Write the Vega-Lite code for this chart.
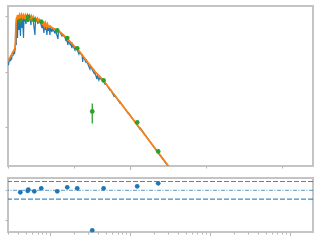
{
  "$schema": "https://vega.github.io/schema/vega-lite/v6.json",
  "padding": {"left": 3, "top": 5, "right": 0, "bottom": 0},
  "background": "white",
  "spacing": 12,
  "bounds": "flush",
  "config": {
    "view": {"stroke": "#c4c4c4", "strokeWidth": 2},
    "axis": {"labels": false, "domain": false, "grid": false, "title": null, "tickColor": "#b4b4b4", "tickWidth": 1}
  },
  "datasets": {
    "model": [
      {"lw": -1.525, "lf": -0.838}, {"lw": -1.519, "lf": -0.883}, {"lw": -1.513, "lf": -0.820}, {"lw": -1.5, "lf": -0.784},
      {"lw": -1.494, "lf": -0.811}, {"lw": -1.488, "lf": -0.757}, {"lw": -1.481, "lf": -0.784}, {"lw": -1.475, "lf": -0.721},
      {"lw": -1.463, "lf": -0.712}, {"lw": -1.456, "lf": -0.667}, {"lw": -1.45, "lf": -0.649}, {"lw": -1.444, "lf": -0.685},
      {"lw": -1.438, "lf": -0.613}, {"lw": -1.433, "lf": -0.595}, {"lw": -1.43, "lf": -0.252}, {"lw": -1.425, "lf": -0.180},
      {"lw": -1.421, "lf": -0.523}, {"lw": -1.418, "lf": -0.054}, {"lw": -1.413, "lf": -0.018}, {"lw": -1.406, "lf": -0.396},
      {"lw": -1.4, "lf": -0.018}, {"lw": -1.388, "lf": -0.252}, {"lw": -1.381, "lf": -0.009}, {"lw": -1.369, "lf": -0.360},
      {"lw": -1.363, "lf": 0.0}, {"lw": -1.35, "lf": -0.216}, {"lw": -1.344, "lf": 0.0}, {"lw": -1.331, "lf": -0.396},
      {"lw": -1.325, "lf": 0.0}, {"lw": -1.3, "lf": -0.144}, {"lw": -1.294, "lf": 0.0}, {"lw": -1.275, "lf": -0.108},
      {"lw": -1.269, "lf": -0.009}, {"lw": -1.25, "lf": -0.018}, {"lw": -1.238, "lf": -0.162}, {"lw": -1.231, "lf": -0.018},
      {"lw": -1.213, "lf": -0.036}, {"lw": -1.188, "lf": -0.342}, {"lw": -1.181, "lf": -0.054}, {"lw": -1.163, "lf": -0.063},
      {"lw": -1.15, "lf": -0.144}, {"lw": -1.144, "lf": -0.072}, {"lw": -1.125, "lf": -0.090}, {"lw": -1.1, "lf": -0.216},
      {"lw": -1.094, "lf": -0.117}, {"lw": -1.075, "lf": -0.306}, {"lw": -1.069, "lf": -0.144}, {"lw": -1.056, "lf": -0.252},
      {"lw": -1.05, "lf": -0.162}, {"lw": -1.038, "lf": -0.342}, {"lw": -1.031, "lf": -0.180}, {"lw": -1.019, "lf": -0.270},
      {"lw": -1.013, "lf": -0.198}, {"lw": -1.0, "lf": -0.342}, {"lw": -0.994, "lf": -0.207}, {"lw": -0.975, "lf": -0.288},
      {"lw": -0.969, "lf": -0.225}, {"lw": -0.938, "lf": -0.306}, {"lw": -0.931, "lf": -0.243}, {"lw": -0.9, "lf": -0.414},
      {"lw": -0.894, "lf": -0.279}, {"lw": -0.875, "lf": -0.297}, {"lw": -0.85, "lf": -0.360}, {"lw": -0.844, "lf": -0.333},
      {"lw": -0.813, "lf": -0.378}, {"lw": -0.8, "lf": -0.450}, {"lw": -0.794, "lf": -0.396}, {"lw": -0.775, "lf": -0.523},
      {"lw": -0.769, "lf": -0.432}, {"lw": -0.75, "lf": -0.505}, {"lw": -0.744, "lf": -0.468}, {"lw": -0.725, "lf": -0.577},
      {"lw": -0.719, "lf": -0.505}, {"lw": -0.688, "lf": -0.613}, {"lw": -0.681, "lf": -0.568}, {"lw": -0.663, "lf": -0.595},
      {"lw": -0.638, "lf": -0.685}, {"lw": -0.631, "lf": -0.649}, {"lw": -0.598, "lf": -0.712}, {"lw": -0.591, "lf": -0.829},
      {"lw": -0.585, "lf": -0.730}, {"lw": -0.55, "lf": -0.829}, {"lw": -0.544, "lf": -0.802}, {"lw": -0.5, "lf": -0.955},
      {"lw": -0.494, "lf": -0.901}, {"lw": -0.45, "lf": -1.027}, {"lw": -0.444, "lf": -0.991}, {"lw": -0.413, "lf": -1.135},
      {"lw": -0.406, "lf": -1.063}, {"lw": -0.388, "lf": -1.153}, {"lw": -0.381, "lf": -1.117}, {"lw": -0.331, "lf": -1.171},
      {"lw": -0.313, "lf": -1.225}, {"lw": -0.306, "lf": -1.207}, {"lw": -0.25, "lf": -1.333}, {"lw": -0.244, "lf": -1.324},
      {"lw": -0.2, "lf": -1.441}, {"lw": -0.194, "lf": -1.420}, {"lw": -0.125, "lf": -1.568}, {"lw": -0.119, "lf": -1.550},
      {"lw": -0.025, "lf": -1.748}, {"lw": -0.019, "lf": -1.739}, {"lw": 0.125, "lf": -2.036}, {"lw": 0.131, "lf": -2.018},
      {"lw": 0.354, "lf": -2.469}, {"lw": 0.525, "lf": -2.793}
    ],
    "binned": [
      {"lw": -1.525, "lf": -0.793}, {"lw": -1.513, "lf": -0.775}, {"lw": -1.5, "lf": -0.748}, {"lw": -1.488, "lf": -0.721},
      {"lw": -1.475, "lf": -0.676}, {"lw": -1.463, "lf": -0.649}, {"lw": -1.45, "lf": -0.613}, {"lw": -1.438, "lf": -0.577},
      {"lw": -1.431, "lf": -0.469}, {"lw": -1.425, "lf": -0.144}, {"lw": -1.419, "lf": -0.036}, {"lw": -1.413, "lf": -0.072},
      {"lw": -1.406, "lf": 0.018}, {"lw": -1.394, "lf": -0.054}, {"lw": -1.381, "lf": 0.018}, {"lw": -1.369, "lf": -0.036},
      {"lw": -1.356, "lf": 0.027}, {"lw": -1.344, "lf": -0.027}, {"lw": -1.331, "lf": 0.018}, {"lw": -1.319, "lf": -0.027},
      {"lw": -1.306, "lf": 0.018}, {"lw": -1.294, "lf": -0.036}, {"lw": -1.281, "lf": 0.018}, {"lw": -1.269, "lf": -0.036},
      {"lw": -1.256, "lf": 0.009}, {"lw": -1.244, "lf": -0.045}, {"lw": -1.231, "lf": 0.0}, {"lw": -1.219, "lf": -0.063},
      {"lw": -1.206, "lf": -0.018}, {"lw": -1.194, "lf": -0.072}, {"lw": -1.181, "lf": -0.036}, {"lw": -1.169, "lf": -0.081},
      {"lw": -1.156, "lf": -0.045}, {"lw": -1.144, "lf": -0.090}, {"lw": -1.131, "lf": -0.063}, {"lw": -1.119, "lf": -0.090},
      {"lw": -1.106, "lf": -0.081}, {"lw": -1.094, "lf": -0.162}, {"lw": -1.081, "lf": -0.099}, {"lw": -1.069, "lf": -0.180},
      {"lw": -1.056, "lf": -0.126}, {"lw": -1.044, "lf": -0.198}, {"lw": -1.031, "lf": -0.144}, {"lw": -1.019, "lf": -0.198},
      {"lw": -1.0, "lf": -0.180}, {"lw": -0.975, "lf": -0.216}, {"lw": -0.95, "lf": -0.225}, {"lw": -0.913, "lf": -0.261},
      {"lw": -0.875, "lf": -0.288}, {"lw": -0.838, "lf": -0.333}, {"lw": -0.8, "lf": -0.387}, {"lw": -0.781, "lf": -0.423},
      {"lw": -0.75, "lf": -0.459}, {"lw": -0.713, "lf": -0.514}, {"lw": -0.688, "lf": -0.559}, {"lw": -0.663, "lf": -0.586},
      {"lw": -0.625, "lf": -0.649}, {"lw": -0.588, "lf": -0.721}, {"lw": -0.55, "lf": -0.793}, {"lw": -0.5, "lf": -0.883},
      {"lw": -0.438, "lf": -1.0}, {"lw": -0.375, "lf": -1.090}, {"lw": -0.331, "lf": -1.162}, {"lw": 0.0, "lf": -1.787},
      {"lw": 0.354, "lf": -2.456}, {"lw": 0.525, "lf": -2.782}
    ],
    "photometry": [
      {"lw": -1.371, "lf": -0.085, "lo": -0.100, "hi": -0.070, "resid": -0.068},
      {"lw": -1.279, "lf": -0.067, "lo": -0.082, "hi": -0.052, "resid": -0.017},
      {"lw": -1.271, "lf": -0.013, "lo": -0.028, "hi": 0.002, "resid": 0.027},
      {"lw": -1.196, "lf": -0.072, "lo": -0.087, "hi": -0.057, "resid": -0.034},
      {"lw": -1.109, "lf": -0.103, "lo": -0.118, "hi": -0.088, "resid": 0.068},
      {"lw": -0.909, "lf": -0.258, "lo": -0.273, "hi": -0.243, "resid": -0.034},
      {"lw": -0.784, "lf": -0.396, "lo": -0.411, "hi": -0.381, "resid": 0.102},
      {"lw": -0.659, "lf": -0.582, "lo": -0.597, "hi": -0.567, "resid": 0.068},
      {"lw": -0.471, "lf": -1.717, "lo": -1.933, "hi": -1.573, "resid": -1.36},
      {"lw": -0.329, "lf": -1.159, "lo": -1.174, "hi": -1.144, "resid": 0.068},
      {"lw": 0.091, "lf": -1.915, "lo": -1.930, "hi": -1.900, "resid": 0.136},
      {"lw": 0.354, "lf": -2.438, "lo": -2.453, "hi": -2.423, "resid": 0.238}
    ],
    "limits": [{"level": 0.3}, {"level": -0.3}],
    "zero": [{"level": 0}]
  },
  "vconcat": [
    {
      "width": 305,
      "height": 160,
      "layer": [
        {
          "data": {"name": "model"},
          "mark": {"type": "line", "color": "#1f77b4", "strokeWidth": 1.2, "clip": true},
          "encoding": {
            "x": {"field": "lw", "type": "quantitative", "scale": {"domain": [-1.525, 2.29], "nice": false, "zero": false},
              "axis": {"values": [-1.523, -1.398, -1.301, -1.222, -1.155, -1.097, -1.046, -1, -0.699, -0.523, -0.398, -0.301, -0.222, -0.155, -0.097, -0.046, 0, 0.301, 0.477, 0.602, 0.699, 0.778, 0.845, 0.903, 0.954, 1, 1.301, 1.477, 1.602, 1.699, 1.778, 1.845, 1.903, 1.954, 2],
                "tickSize": {"condition": {"test": "datum.value == -1 || datum.value == 0 || datum.value == 1 || datum.value == 2", "value": 3.5}, "value": 2}}},
            "y": {"field": "lf", "type": "quantitative", "scale": {"domain": [-2.7, 0.18], "nice": false, "zero": false},
              "axis": {"values": [0, -1, -2], "tickSize": 3}}
          }
        },
        {
          "data": {"name": "binned"},
          "mark": {"type": "line", "color": "#ff7f0e", "strokeWidth": 1.8, "clip": true},
          "encoding": {
            "x": {"field": "lw", "type": "quantitative"},
            "y": {"field": "lf", "type": "quantitative"}
          }
        },
        {
          "data": {"name": "photometry"},
          "mark": {"type": "rule", "color": "#2ca02c", "strokeWidth": 1.3},
          "encoding": {
            "x": {"field": "lw", "type": "quantitative"},
            "y": {"field": "lo", "type": "quantitative"},
            "y2": {"field": "hi"}
          }
        },
        {
          "data": {"name": "photometry"},
          "mark": {"type": "circle", "color": "#2ca02c", "size": 22, "opacity": 1},
          "encoding": {
            "x": {"field": "lw", "type": "quantitative"},
            "y": {"field": "lf", "type": "quantitative"}
          }
        }
      ]
    },
    {
      "width": 305,
      "height": 54,
      "layer": [
        {
          "data": {"name": "limits"},
          "mark": {"type": "rule", "color": "#1f77b4", "strokeWidth": 1.2, "strokeDash": [5, 2], "opacity": 0.85},
          "encoding": {
            "y": {"field": "level", "type": "quantitative", "scale": {"domain": [-1.419, 0.419], "nice": false, "zero": false},
              "axis": {"values": [0, -0.5, -1], "tickSize": 3}}
          }
        },
        {
          "data": {"name": "zero"},
          "mark": {"type": "rule", "color": "#1f77b4", "strokeWidth": 1.2, "strokeDash": [4, 1.5, 1, 1.5], "opacity": 0.6},
          "encoding": {
            "y": {"field": "level", "type": "quantitative"}
          }
        },
        {
          "data": {"name": "photometry"},
          "mark": {"type": "circle", "color": "#1f77b4", "size": 22, "opacity": 1},
          "encoding": {
            "x": {"field": "lw", "type": "quantitative", "scale": {"domain": [-1.525, 2.29], "nice": false, "zero": false},
              "axis": {"values": [-1.523, -1.398, -1.301, -1.222, -1.155, -1.097, -1.046, -1, -0.699, -0.523, -0.398, -0.301, -0.222, -0.155, -0.097, -0.046, 0, 0.301, 0.477, 0.602, 0.699, 0.778, 0.845, 0.903, 0.954, 1, 1.301, 1.477, 1.602, 1.699, 1.778, 1.845, 1.903, 1.954, 2],
                "tickSize": {"condition": {"test": "datum.value == -1 || datum.value == 0 || datum.value == 1 || datum.value == 2", "value": 3.5}, "value": 2}}},
            "y": {"field": "resid", "type": "quantitative"}
          }
        }
      ]
    }
  ]
}
